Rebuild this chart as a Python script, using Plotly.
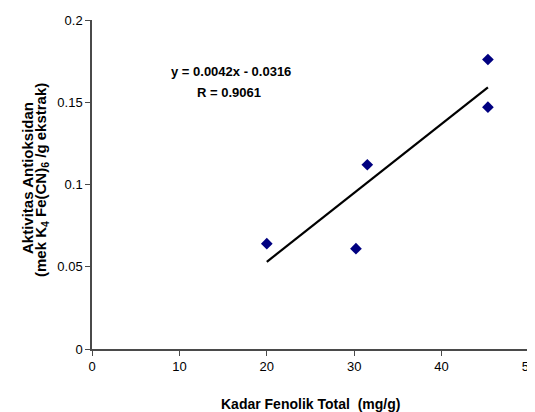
import plotly.graph_objects as go

# Data
fenolik = [20.0, 30.2, 31.5, 45.3, 45.3]          # Kadar Fenolik Total (mg/g)
antioksidan = [0.064, 0.061, 0.112, 0.176, 0.147]  # Aktivitas Antioksidan
trend_x = [20.0, 45.3]
trend_y = [0.053, 0.159]
equation_text = "y = 0.0042x - 0.0316"
r_text = "R = 0.9061"
x_ticks = [0, 10, 20, 30, 40, 50]
y_ticks = [0, 0.05, 0.1, 0.15, 0.2]

FONT = "Arial, 'Liberation Sans', sans-serif"
AXIS_COLOR = "#4a4a4a"

# page body has an 8px margin, so the figure is sized/offset to compensate
ML, MR, MT, MB = 84, 6, 12, 63
W, H = 527, 404
PW = W - ML - MR
PH = H - MT - MB

fig = go.Figure()
fig.add_trace(go.Scatter(
    x=trend_x, y=trend_y, mode="lines",
    line=dict(color="black", width=2.2), showlegend=False, hoverinfo="skip"))
fig.add_trace(go.Scatter(
    x=fenolik, y=antioksidan, mode="markers",
    marker=dict(symbol="diamond", size=9, color="#000080"),
    showlegend=False))

fig.update_layout(
    width=W, height=H,
    margin=dict(l=ML, r=MR, t=MT, b=MB, autoexpand=False),
    paper_bgcolor="white", plot_bgcolor="white",
    font=dict(family=FONT, color="black", size=13),
    showlegend=False,
    xaxis=dict(
        range=[0, 50], tickvals=x_ticks, ticktext=[str(v) for v in x_ticks],
        showgrid=False, zeroline=False, showline=True, linecolor=AXIS_COLOR, linewidth=1.5,
        ticks="outside", ticklen=5, tickcolor=AXIS_COLOR, tickwidth=1.2,
        ticklabeloverflow="allow", automargin=False,
        tickfont=dict(size=13, family=FONT, color="black")),
    yaxis=dict(
        range=[0, 0.2], tickvals=y_ticks, ticktext=["0", "0.05", "0.1", "0.15", "0.2"],
        showgrid=False, zeroline=False, showline=True, linecolor=AXIS_COLOR, linewidth=1.5,
        ticks="outside", ticklen=5, tickcolor=AXIS_COLOR, tickwidth=1.2,
        ticklabeloverflow="allow", automargin=False,
        tickfont=dict(size=13, family=FONT, color="black")),
)

# page-pixel positions converted to paper coordinates
def px(xp):
    return (xp - 8 - ML) / PW

def py(yp):
    return (H - MB - (yp - 8)) / PH

annots = [
    dict(text="<b>Kadar Fenolik Total  (mg/g)</b>", xref="paper", yref="paper",
         x=0.5, y=0, xanchor="center", yanchor="middle", yshift=-(404 - 349), showarrow=False,
         font=dict(size=14, family=FONT, color="black")),
    dict(text="<b>Aktivitas Antioksidan</b>", xref="paper", yref="paper",
         x=0, y=py(178), xanchor="center", yanchor="middle", xshift=27 - 92, showarrow=False,
         textangle=-90, font=dict(size=15, family=FONT, color="black")),
    dict(text="<b>(mek K<sub>4</sub> Fe(CN)<sub>6</sub> /g ekstrak)</b>", xref="paper", yref="paper",
         x=0, y=py(180), xanchor="center", yanchor="middle", xshift=42 - 92, showarrow=False,
         textangle=-90, font=dict(size=15, family=FONT, color="black")),
    dict(text="<b>" + equation_text + "</b>", xref="paper", yref="paper",
         x=px(231), y=py(71), xanchor="center", yanchor="middle",
         showarrow=False, font=dict(size=13, family=FONT, color="black")),
    dict(text="<b>" + r_text + "</b>", xref="paper", yref="paper",
         x=px(229), y=py(92), xanchor="center", yanchor="middle",
         showarrow=False, font=dict(size=13, family=FONT, color="black")),
]
fig.update_layout(annotations=annots)

fig.write_html("out.html")
